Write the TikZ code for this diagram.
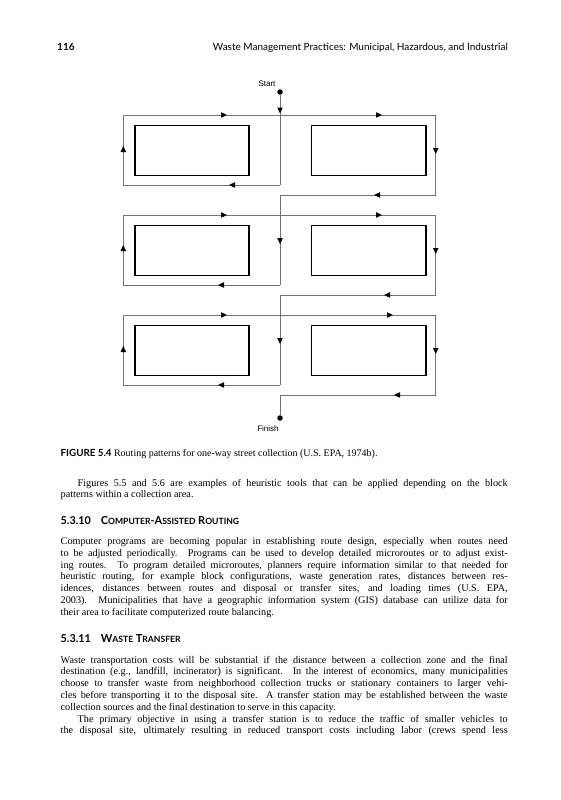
\documentclass[tikz,border=0pt]{standalone}
\usepackage{fontspec}
\setmainfont{Liberation Serif}
\newfontfamily\hsans{Lato}
\newfontfamily\lsans{Liberation Sans}
\newcommand\jl[1]{\hbox to 447pt{#1}}
\newcommand\rl[1]{\hbox to 447pt{#1\hfil}}
\newcommand\il[1]{\hbox to 447pt{\hskip 17pt #1}}
\newcommand\hsc[2]{{\fontsize{11}{12}\selectfont #1}{\fontsize{8.6}{12}\selectfont #2}}
\tikzset{
  route/.style={draw=black!55, line width=0.9pt},
  block/.style={draw=black, line width=1.3pt},
  txt/.style={inner sep=0pt, outer sep=0pt, font=\fontsize{10.2}{11.8}\selectfont},
  captxt/.style={inner sep=0pt, outer sep=0pt, font=\fontsize{10}{11.8}\selectfont},
  head/.style={inner sep=0pt, outer sep=0pt, font=\hsans\bfseries\fontsize{10.8}{12}\selectfont},
  lab/.style={inner sep=0pt, font=\lsans\fontsize{8}{9}\selectfont},
  tip/.pic={\fill[black] (3,0)--(-3,-2.8)--(-3,2.8)--cycle;},
  dot/.style={circle, fill=black, inner sep=0pt, minimum size=5.5pt}
}
\begin{document}
\begin{tikzpicture}[x=1pt,y=-1pt]
\fill[white] (0,0) rectangle (560,800);
\useasboundingbox (0,0) rectangle (560,800);

% header
\node[anchor=base west, inner sep=0pt, font=\hsans\bfseries\fontsize{10}{12}\selectfont] (pg) at (57,51) {116};
\node[anchor=base east, inner sep=0pt, font=\hsans\fontsize{10}{12}\selectfont] (rh) at (508,51) {Waste Management Practices: Municipal, Hazardous, and Industrial};

% blocks
\foreach \r/\t in {1/125,2/225,3/325}{
  \node[block, anchor=north west, minimum width=114pt, minimum height=50pt, inner sep=0pt] (bl\r) at (134.3,\t) {};
  \node[block, anchor=north west, minimum width=114.6pt, minimum height=50pt, inner sep=0pt] (br\r) at (310.7,\t) {};
}

% route
\node[dot] (start) at (280,92) {};
\node[lab, anchor=base] (startl) at (267,86) {Start};
\node[dot] (finish) at (280,418) {};
\node[lab, anchor=base] (finishl) at (268,431) {Finish};
\foreach \r/\t in {1/115,2/215,3/315}{
  \pgfmathsetmacro\b{\t+70}
  \pgfmathsetmacro\c{\t+80}
  \coordinate (tl\r) at (123.3,\t);
  \coordinate (tr\r) at (435.7,\t);
  \coordinate (bl\r c) at (123.3,\b);
  \coordinate (bm\r) at (280,\b);
  \coordinate (cr\r) at (435.7,\c);
  \coordinate (cm\r) at (280,\c);
  \draw[route] (bm\r) -- (bl\r c) -- (tl\r) -- (tr\r) -- (cr\r) -- (cm\r);
}
\draw[route] (start) -- (bm1);
\draw[route] (cm1) -- (bm2);
\draw[route] (cm2) -- (bm3);
\draw[route] (cm3) -- (finish);

% arrowheads
\pic[rotate=-90] at (280,110.5) {tip};
\pic at (224,115) {tip};
\pic at (379,115) {tip};
\pic[rotate=90] at (123.3,149) {tip};
\pic[rotate=-90] at (435.7,151) {tip};
\pic[rotate=180] at (232,185) {tip};
\pic[rotate=180] at (377,195) {tip};

\pic at (224,215) {tip};
\pic at (379,215) {tip};
\pic[rotate=-90] at (280,241) {tip};
\pic[rotate=90] at (123.3,248) {tip};
\pic[rotate=-90] at (435.7,251) {tip};
\pic[rotate=180] at (221,285) {tip};
\pic[rotate=180] at (387,295) {tip};

\pic at (224,315) {tip};
\pic at (390,315) {tip};
\pic[rotate=-90] at (280,341) {tip};
\pic[rotate=90] at (123.3,349) {tip};
\pic[rotate=-90] at (435.7,351) {tip};
\pic[rotate=180] at (221,385) {tip};
\pic[rotate=180] at (397,395) {tip};

% caption
\node[captxt, anchor=base west] (capt) at (60.7,456.5) {{\hsans\bfseries\fontsize{9.8}{12}\selectfont FIGURE 5.4} Routing patterns for one-way street collection (U.S. EPA, 1974b).};

% paragraph 0
\node[txt, anchor=base west] (q1) at (60.7,486) {\il{Figures 5.5 and 5.6 are examples of heuristic tools that can be applied depending on the block}};
\node[txt, anchor=base west] (q2) at (60.7,497.8) {\rl{patterns within a collection area.}};

% heading 1
\node[head, anchor=base west] (h1) at (60.7,524) {5.3.10\hskip 10pt\hsc{C}{OMPUTER}-\hsc{A}{SSISTED} \hsc{R}{OUTING}};

\node[txt, anchor=base west] (a1) at (60.7,544.5) {\jl{Computer programs are becoming popular in establishing route design, especially when routes need}};
\node[txt, anchor=base west] (a2) at (60.7,556.3) {\jl{to be adjusted periodically. Programs can be used to develop detailed microroutes or to adjust exist-}};
\node[txt, anchor=base west] (a3) at (60.7,568.1) {\jl{ing routes. To program detailed microroutes, planners require information similar to that needed for}};
\node[txt, anchor=base west] (a4) at (60.7,579.9) {\jl{heuristic routing, for example block configurations, waste generation rates, distances between res-}};
\node[txt, anchor=base west] (a5) at (60.7,591.7) {\jl{idences, distances between routes and disposal or transfer sites, and loading times (U.S. EPA,}};
\node[txt, anchor=base west] (a6) at (60.7,603.5) {\jl{2003). Municipalities that have a geographic information system (GIS) database can utilize data for}};
\node[txt, anchor=base west] (a7) at (60.7,615.3) {\rl{their area to facilitate computerized route balancing.}};

% heading 2
\node[head, anchor=base west] (h2) at (60.7,642) {5.3.11\hskip 10pt\hsc{W}{ASTE} \hsc{T}{RANSFER}};

\node[txt, anchor=base west] (b1) at (60.7,663) {\jl{Waste transportation costs will be substantial if the distance between a collection zone and the final}};
\node[txt, anchor=base west] (b2) at (60.7,674.8) {\jl{destination (e.g., landfill, incinerator) is significant. In the interest of economics, many municipalities}};
\node[txt, anchor=base west] (b3) at (60.7,686.6) {\jl{choose to transfer waste from neighborhood collection trucks or stationary containers to larger vehi-}};
\node[txt, anchor=base west] (b4) at (60.7,698.4) {\jl{cles before transporting it to the disposal site. A transfer station may be established between the waste}};
\node[txt, anchor=base west] (b5) at (60.7,710.2) {\rl{collection sources and the final destination to serve in this capacity.}};
\node[txt, anchor=base west] (b6) at (60.7,722) {\il{The primary objective in using a transfer station is to reduce the traffic of smaller vehicles to}};
\node[txt, anchor=base west] (b7) at (60.7,733.8) {\jl{the disposal site, ultimately resulting in reduced transport costs including labor (crews spend less}};
\end{tikzpicture}
\end{document}
